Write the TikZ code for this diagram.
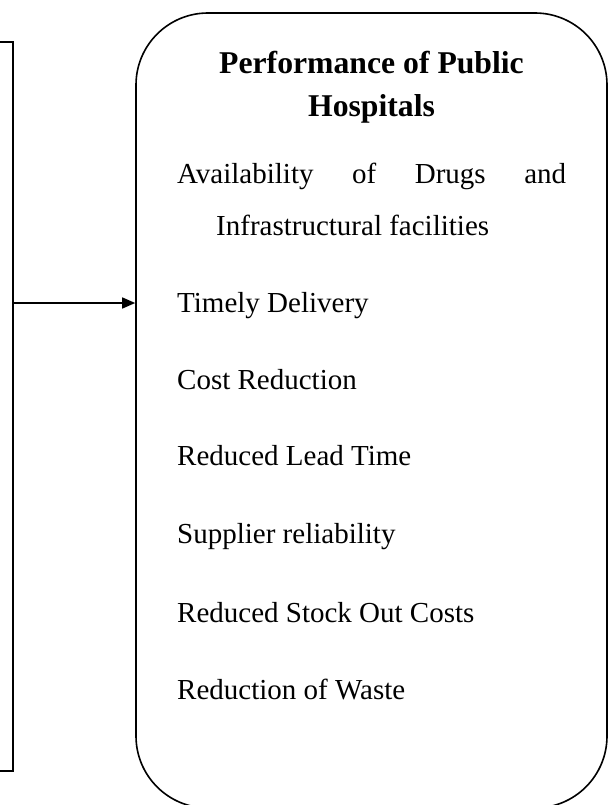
\documentclass[tikz,border=0pt]{standalone}
\usepackage{fontspec}
\setmainfont{Liberation Serif}
\usetikzlibrary{arrows.meta}
\begin{document}
\begin{tikzpicture}[x=1pt,y=-1pt,
  frame/.style={draw=black,line width=1.6pt,inner sep=0pt},
  heading/.style={anchor=base,inner sep=0pt,font=\fontsize{31.7}{38}\selectfont\bfseries},
  item/.style={anchor=base west,inner sep=0pt,font=\fontsize{29}{35}\selectfont},
  link/.style={line width=1.5pt,-{Triangle[length=13pt,width=11pt]}}]
\useasboundingbox (0,0) rectangle (609,805);
\clip (0,0) rectangle (609,805);
% partly visible box on the left
\node[frame,minimum width=113pt,minimum height=729pt] (src) at (-43.5,406.5) {};
% rounded outcome box
\node[frame,rounded corners=72pt,minimum width=471pt,minimum height=795pt] (perf) at (371.5,410.5) {};
\node[heading] (t1) at (371.5,74) {Performance of Public};
\node[heading] (t2) at (371.5,117) {Hospitals};
\node[item] (i1) at (177,183) {\makebox[389pt][s]{Availability\hfill of\hfill Drugs\hfill and}};
\node[item] (i1b) at (216,235) {Infrastructural facilities};
\node[item] (i2) at (177,312) {Timely Delivery};
\node[item] (i3) at (177,389) {Cost Reduction};
\node[item] (i4) at (177,465) {Reduced Lead Time};
\node[item] (i5) at (177,543) {Supplier reliability};
\node[item] (i6) at (177,622) {Reduced Stock Out Costs};
\node[item] (i7) at (177,699) {Reduction of Waste};
% connector
\coordinate (ay) at (0,303);
\draw[link] (src.east |- ay) -- (perf.west |- ay);
\end{tikzpicture}
\end{document}
